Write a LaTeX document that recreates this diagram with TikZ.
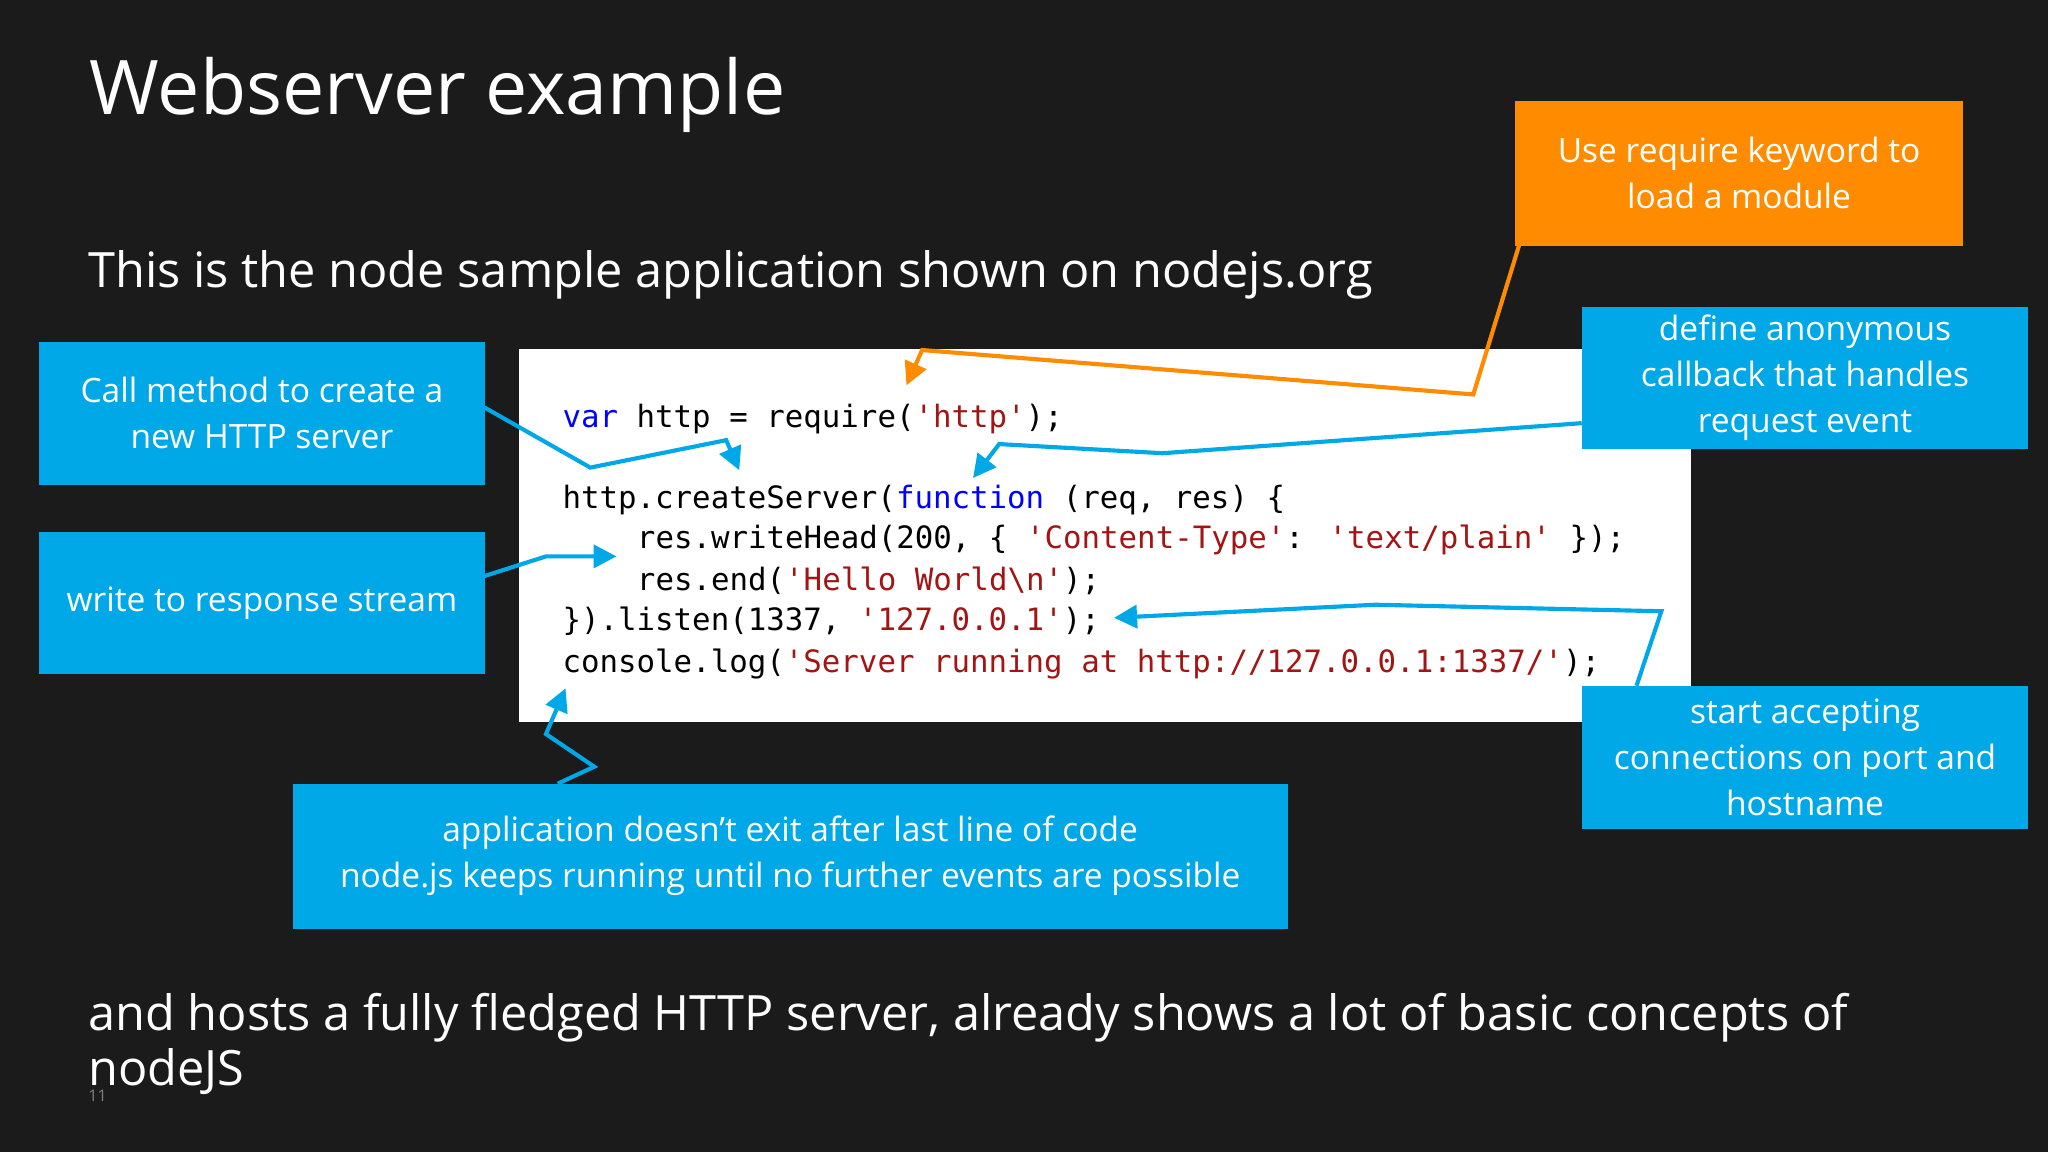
\documentclass[tikz,border=0pt]{standalone}
\usepackage{fontspec}
\setmainfont{Open Sans}
\newfontfamily\codefont{DejaVu Sans Mono}
\usetikzlibrary{arrows.meta}
\definecolor{bg}{HTML}{1B1B1B}
\definecolor{msblue}{HTML}{00A8E8}
\definecolor{msorange}{HTML}{FF8C00}
\definecolor{kw}{HTML}{0000FF}
\definecolor{str}{HTML}{A31515}
\begin{document}
\begin{tikzpicture}[x=0.01cm,y=-0.01cm,
  box/.style={fill=msblue,text=white,align=center,font=\fontsize{7.3}{10}\selectfont,inner sep=0pt,minimum width=0.01cm*341,minimum height=0.01cm*109},
  conn/.style={line width=0.9pt,-{Triangle[length=5pt,width=5pt]}},
  big/.style={anchor=base west,inner sep=0pt,text=white,font=\fontsize{10.6}{13}\selectfont},
  code/.style={anchor=base west,inner sep=0pt,font=\codefont\fontsize{6.7}{8}\selectfont,text=black}]
\fill[bg] (0,0) rectangle (1568,882);
\useasboundingbox (0,0) rectangle (1568,882);
\node[anchor=base west,inner sep=0pt,text=white,font=\fontsize{16.4}{20}\selectfont] (title) at (68,88) {Webserver example};
\node[big] (sub) at (67,220) {This is the node sample application shown on nodejs.org};
\node[big] (bot1) at (67,789) {and hosts a fully fledged HTTP server, already shows a lot of basic concepts of};
\node[big] (bot2) at (67,831) {nodeJS};
\node[anchor=base west,inner sep=0pt,text=gray,font=\fontsize{3.5}{4}\selectfont] (pg) at (67,843) {11};
\node[fill=white,minimum width=0.01cm*898,minimum height=0.01cm*286,inner sep=0pt] (codebox) at (846,410) {};
\node[code] (l1) at (430,327) {\textcolor{kw}{var} http = require(\textcolor{str}{'http'});};
\node[code] (l2) at (430,389) {http.createServer(\textcolor{kw}{function} (req, res) \{};
\node[code] (l3) at (487,420) {res.writeHead(200, \{ \textcolor{str}{'Content-Type'}: \textcolor{str}{'text/plain'} \});};
\node[code] (l4) at (487,452) {res.end(\textcolor{str}{'Hello World\textbackslash n'});};
\node[code] (l5) at (430,483) {\}).listen(1337, \textcolor{str}{'127.0.0.1'});};
\node[code] (l6) at (430,515) {console.log(\textcolor{str}{'Server running at http://127.0.0.1:1337/'});};
\node[box] (call) at (200.5,316.5) {Call method to create a\\new HTTP server};
\node[box] (write) at (200.5,461.5) {write to response stream};
\node[box,minimum width=0.01cm*342] (def) at (1382,289.5) {define anonymous\\callback that handles\\request event};
\node[box,minimum width=0.01cm*342] (start) at (1382,580) {start accepting\\connections on port and\\hostname};
\node[box,minimum width=0.01cm*762,minimum height=0.01cm*111] (app) at (605,655.5) {application doesn’t exit after last line of code\\node.js keeps running until no further events are possible};
\node[box,fill=msorange,minimum width=0.01cm*343,minimum height=0.01cm*111] (req) at (1331.5,132.5) {Use require keyword to\\load a module};
\coordinate (reqA) at (1163,188);
\coordinate (reqT) at (694,295);
\draw[conn,msorange] (reqA) -- (1128,302) -- (706,268) -- (reqT);
\coordinate (callA) at (371,312);
\coordinate (callT) at (566,360);
\draw[conn,msblue] (callA) -- (452,358) -- (556,337) -- (callT);
\coordinate (defA) at (1211,324);
\coordinate (defT) at (745,366);
\draw[conn,msblue] (defA) -- (890,347) -- (765,340) -- (defT);
\coordinate (writeA) at (371,441);
\coordinate (writeT) at (472,426);
\draw[conn,msblue] (writeA) -- (418,426) -- (writeT);
\coordinate (startA) at (1253,525);
\coordinate (startT) at (853,473);
\draw[conn,msblue] (startA) -- (1272,468) -- (1053,463) -- (startT);
\coordinate (appA) at (427,600);
\coordinate (appT) at (433,527);
\draw[conn,msblue] (appA) -- (455,587) -- (418,562) -- (appT);
\end{tikzpicture}
\end{document}
